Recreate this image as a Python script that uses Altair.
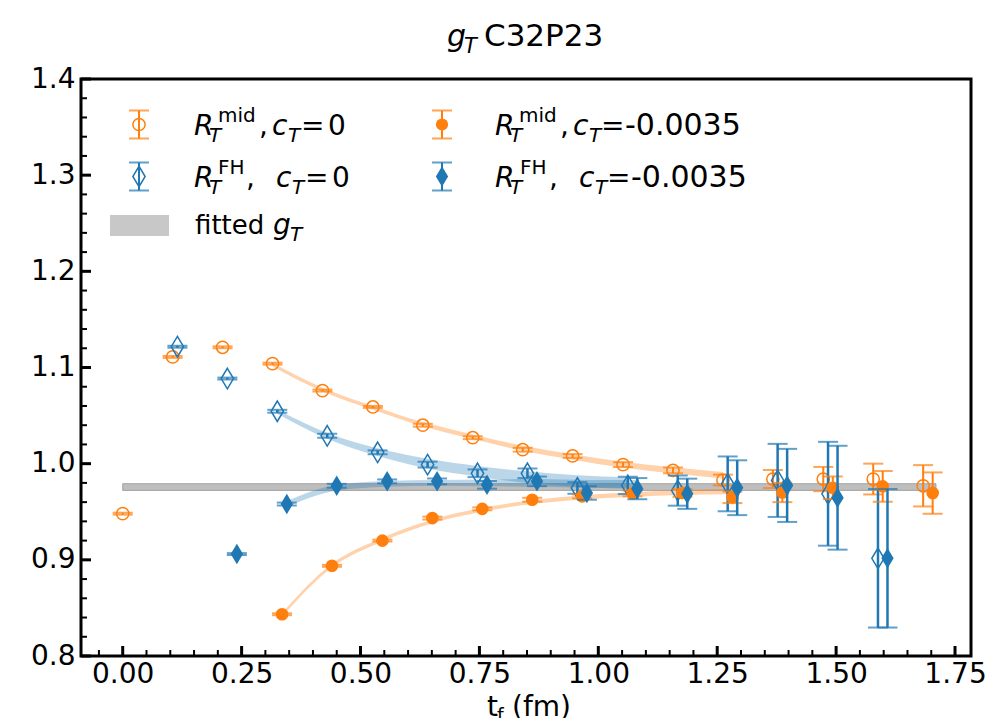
import altair as alt
import pandas as pd

# ---------------- data ----------------
ORANGE = "#ff7f0e"
BLUE = "#1f77b4"

# R_T^mid, c_T = 0  (open circles)
mid0_x = [0.000, 0.105, 0.210, 0.315, 0.420, 0.526, 0.631, 0.736, 0.841, 0.946,
          1.052, 1.157, 1.262, 1.367, 1.473, 1.578, 1.683]
mid0_y = [0.948, 1.111, 1.121, 1.104, 1.076, 1.059, 1.040, 1.027, 1.0145, 1.008,
          0.999, 0.993, 0.983, 0.984, 0.984, 0.984, 0.977]
mid0_e = [0.001, 0.001, 0.001, 0.001, 0.001, 0.001, 0.0015, 0.0015, 0.002, 0.002,
          0.0025, 0.003, 0.0056, 0.0094, 0.0126, 0.016, 0.0215]

# R_T^FH, c_T = 0  (open thin diamonds)
fh0_x = [0.115, 0.220, 0.325, 0.430, 0.536, 0.641, 0.746, 0.851, 0.956, 1.062,
         1.167, 1.272, 1.377, 1.483, 1.588]
fh0_y = [1.1216, 1.0885, 1.0545, 1.029, 1.0118, 0.999, 0.990, 0.990, 0.9747, 0.9774,
         0.972, 0.979, 0.9826, 0.9687, 0.9016]
fh0_e = [0.001, 0.001, 0.0015, 0.002, 0.002, 0.003, 0.004, 0.005, 0.006, 0.009,
         0.0157, 0.0285, 0.038, 0.054, 0.072]

# R_T^mid, c_T = -0.0035  (filled circles)
midc_x = [0.335, 0.440, 0.546, 0.651, 0.756, 0.861, 0.966, 1.072, 1.177, 1.282,
          1.387, 1.493, 1.598, 1.703]
midc_y = [0.8434, 0.8938, 0.920, 0.9434, 0.953, 0.9625, 0.966, 0.969, 0.9695, 0.965,
          0.970, 0.975, 0.9764, 0.9694]
midc_e = [0.001, 0.001, 0.001, 0.0015, 0.0015, 0.002, 0.002, 0.003, 0.004, 0.006,
          0.010, 0.0117, 0.016, 0.0215]

# R_T^FH, c_T = -0.0035  (filled thin diamonds)
fhc_x = [0.240, 0.345, 0.450, 0.556, 0.661, 0.766, 0.871, 0.976, 1.082, 1.187,
         1.292, 1.397, 1.503, 1.608]
fhc_y = [0.906, 0.958, 0.977, 0.9816, 0.9816, 0.978, 0.9816, 0.9695, 0.974, 0.9687,
         0.975, 0.9774, 0.9646, 0.9016]
fhc_e = [0.001, 0.0015, 0.002, 0.002, 0.003, 0.004, 0.005, 0.007, 0.011, 0.0157,
         0.0285, 0.038, 0.054, 0.072]

# fit bands (centre and half width)
fitA_x = [0.315, 0.420, 0.526, 0.631, 0.736, 0.841, 0.946, 1.052, 1.157, 1.262]
fitA_y = [1.103, 1.077, 1.058, 1.041, 1.028, 1.016, 1.007, 0.999, 0.993, 0.988]
fitA_w = [0.002, 0.002, 0.002, 0.0022, 0.0024, 0.0026, 0.0028, 0.003, 0.0032, 0.0034]

fitB_x = [0.325, 0.430, 0.536, 0.641, 0.746, 0.851, 0.956, 1.062]
fitB_y = [1.054, 1.029, 1.012, 1.000, 0.992, 0.986, 0.982, 0.980]
fitB_w = [0.002, 0.003, 0.004, 0.005, 0.0055, 0.006, 0.006, 0.006]

fitC_x = [0.335, 0.440, 0.546, 0.651, 0.756, 0.861, 0.966, 1.072, 1.177, 1.282]
fitC_y = [0.843, 0.894, 0.921, 0.940, 0.952, 0.960, 0.965, 0.968, 0.970, 0.971]
fitC_w = [0.002, 0.002, 0.002, 0.002, 0.002, 0.002, 0.0022, 0.0024, 0.0026, 0.0028]

fitD_x = [0.345, 0.450, 0.556, 0.661, 0.766, 0.871, 0.976, 1.082]
fitD_y = [0.958, 0.975, 0.979, 0.980, 0.980, 0.980, 0.979, 0.979]
fitD_w = [0.003, 0.003, 0.003, 0.003, 0.0035, 0.004, 0.004, 0.004]

# fitted g_T band
gT_x = [0.0, 1.71]
gT_lo = [0.9722, 0.9722]
gT_hi = [0.9792, 0.9792]

# axes
x_major = [0.0, 0.25, 0.5, 0.75, 1.0, 1.25, 1.5, 1.75]
x_minor = [-0.05, 0.05, 0.10, 0.15, 0.20, 0.30, 0.35, 0.40, 0.45, 0.55, 0.60, 0.65,
           0.70, 0.80, 0.85, 0.90, 0.95, 1.05, 1.10, 1.15, 1.20, 1.30, 1.35, 1.40,
           1.45, 1.55, 1.60, 1.65, 1.70]
y_major = [0.8, 0.9, 1.0, 1.1, 1.2, 1.3, 1.4]
y_minor = [0.82, 0.84, 0.86, 0.88, 0.92, 0.94, 0.96, 0.98, 1.02, 1.04, 1.06, 1.08,
           1.12, 1.14, 1.16, 1.18, 1.22, 1.24, 1.26, 1.28, 1.32, 1.34, 1.36, 1.38]

XD = [-0.0877, 1.7836]
YD = [0.8, 1.4]
W, H = 890, 577
FONT = "DejaVu Sans"
DIAMOND = "M0,-1L0.6,0L0,1L-0.6,0Z"

# text pieces: (text, x px, baseline px, size, italic)
legend_text = [
    ("R", 113, 56, 28, 1), ("T", 128, 63, 20, 1), ("mid", 137, 43, 20, 0), (",", 178, 56, 28, 0),
    ("c", 191, 56, 28, 1), ("T", 207, 63, 20, 1), ("=", 220, 56, 28, 0), ("0", 247, 56, 28, 0),
    ("R", 113, 108, 28, 1), ("T", 128, 115, 20, 1), ("FH", 137, 95, 20, 0), (",", 165, 108, 28, 0),
    ("c", 195, 108, 28, 1), ("T", 211, 115, 20, 1), ("=", 224, 108, 28, 0), ("0", 251, 108, 28, 0),
    ("R", 414, 56, 28, 1), ("T", 429, 63, 20, 1), ("mid", 438, 43, 20, 0), (",", 479, 56, 28, 0),
    ("c", 492, 56, 28, 1), ("T", 508, 63, 20, 1), ("=", 520, 56, 28, 0), ("-0.0035", 544, 56, 30, 0),
    ("R", 414, 108, 28, 1), ("T", 429, 115, 20, 1), ("FH", 439, 95, 20, 0), (",", 468, 108, 28, 0),
    ("c", 498, 108, 28, 1), ("T", 514, 115, 20, 1), ("=", 526, 108, 28, 0), ("-0.0035", 550, 108, 30, 0),
    ("fitted", 114, 155, 26, 0), ("g", 192, 155, 28, 1), ("T", 209, 162, 20, 1),
    # title
    ("g", 366, -33, 30, 1), ("T", 383, -26, 21, 1), ("C32P23", 403, -33, 31, 0),
    # x axis title
    ("t", 406, 637, 28, 0), ("f", 416, 643, 19, 0), ("(fm)", 431, 637, 28, 0),
]

# legend icons: (px, py, color, filled, shape)
legend_icons = [
    (58, 45.5, ORANGE, False, "circle"),
    (361, 45.5, ORANGE, True, "circle"),
    (58, 97.5, BLUE, False, DIAMOND),
    (361, 97.5, BLUE, True, DIAMOND),
]
legend_patch = {"x": [29], "x2": [88], "y": [136], "y2": [157]}

# ---------------- helpers ----------------
def X(field="x", axis=None):
    return alt.X(f"{field}:Q", scale=alt.Scale(domain=XD, nice=False, zero=False), axis=axis)


def Y(field="y", axis=None):
    return alt.Y(f"{field}:Q", scale=alt.Scale(domain=YD, nice=False, zero=False), axis=axis)


def series_layers(xs, ys, es, color, filled, shape, size, bar_w):
    df = pd.DataFrame({"x": xs, "y": ys,
                       "lo": [a - b for a, b in zip(ys, es)],
                       "hi": [a + b for a, b in zip(ys, es)]})
    base = alt.Chart(df)
    bar = base.mark_rule(color=color, strokeWidth=bar_w).encode(x=X(), y=Y("lo"), y2="hi:Q")
    cap1 = base.mark_tick(orient="horizontal", size=20, thickness=2, color=color).encode(x=X(), y=Y("lo"))
    cap2 = base.mark_tick(orient="horizontal", size=20, thickness=2, color=color).encode(x=X(), y=Y("hi"))
    if filled:
        pt = base.mark_point(shape=shape, filled=True, size=size, color=color, opacity=1).encode(x=X(), y=Y())
    else:
        pt = base.mark_point(shape=shape, filled=False, size=size, color=color, strokeWidth=1.5,
                             opacity=1).encode(x=X(), y=Y())
    return [bar, cap1, cap2, pt]


def band(xs, ys, ws, color, op):
    df = pd.DataFrame({"x": xs, "lo": [a - b for a, b in zip(ys, ws)], "hi": [a + b for a, b in zip(ys, ws)]})
    return alt.Chart(df).mark_area(color=color, opacity=op, interpolate="monotone").encode(
        x=X(), y=Y("lo"), y2="hi:Q")


# ---------------- layers ----------------
xaxis = alt.Axis(values=x_major, format=".2f", ticks=False, domain=False, grid=False,
                 labelPadding=4, labelFlush=False, labelOverlap=False, title=None)
yaxis = alt.Axis(values=y_major, format=".1f", ticks=False, domain=False, grid=False,
                 labelPadding=6, labelFlush=False, labelOverlap=False, title=None)

gdf = pd.DataFrame({"x": gT_x, "lo": gT_lo, "hi": gT_hi})
gband = alt.Chart(gdf).mark_area(fill="#a8a8a8", fillOpacity=0.75, stroke="#8c8c8c",
                                 strokeWidth=1, strokeOpacity=0.7).encode(
    x=X(axis=xaxis), y=Y("lo", axis=yaxis), y2="hi:Q")

layers = [gband,
          band(fitA_x, fitA_y, fitA_w, ORANGE, 0.35),
          band(fitB_x, fitB_y, fitB_w, BLUE, 0.3),
          band(fitC_x, fitC_y, fitC_w, ORANGE, 0.35),
          band(fitD_x, fitD_y, fitD_w, BLUE, 0.3)]

layers += series_layers(mid0_x, mid0_y, mid0_e, ORANGE, False, "circle", 150, 2)
layers += series_layers(fh0_x, fh0_y, fh0_e, BLUE, False, DIAMOND, 420, 2.5)
layers += series_layers(midc_x, midc_y, midc_e, ORANGE, True, "circle", 160, 2)
layers += series_layers(fhc_x, fhc_y, fhc_e, BLUE, True, DIAMOND, 420, 2.5)

# inward ticks
xmaj = alt.Chart(pd.DataFrame({"x": x_major})).mark_rule(color="black", strokeWidth=3).encode(
    x=X(), y=alt.value(H), y2=alt.value(H - 10))
xmin = alt.Chart(pd.DataFrame({"x": x_minor})).mark_rule(color="black", strokeWidth=2).encode(
    x=X(), y=alt.value(H), y2=alt.value(H - 6))
ymaj = alt.Chart(pd.DataFrame({"y": y_major})).mark_rule(color="black", strokeWidth=3).encode(
    y=Y(), x=alt.value(0), x2=alt.value(10))
ymin = alt.Chart(pd.DataFrame({"y": y_minor})).mark_rule(color="black", strokeWidth=2).encode(
    y=Y(), x=alt.value(0), x2=alt.value(6))
layers += [xmaj, xmin, ymaj, ymin]

# legend icons
ic = pd.DataFrame(legend_icons, columns=["px", "py", "color", "filled", "shape"])
ic["lo"] = ic["py"] + 14
ic["hi"] = ic["py"] - 14
PX = alt.X("px:Q", scale=None, axis=None)
for _, r in ic.iterrows():
    d = pd.DataFrame([r])
    b = alt.Chart(d)
    layers.append(b.mark_rule(color=r["color"], strokeWidth=2).encode(
        x=PX, y=alt.Y("lo:Q", scale=None, axis=None), y2="hi:Q"))
    layers.append(b.mark_tick(orient="horizontal", size=20, thickness=2, color=r["color"]).encode(
        x=PX, y=alt.Y("lo:Q", scale=None, axis=None)))
    layers.append(b.mark_tick(orient="horizontal", size=20, thickness=2, color=r["color"]).encode(
        x=PX, y=alt.Y("hi:Q", scale=None, axis=None)))
    size = 150 if r["shape"] == "circle" else 420
    if r["filled"]:
        layers.append(b.mark_point(shape=r["shape"], filled=True, size=size, color=r["color"], opacity=1).encode(
            x=PX, y=alt.Y("py:Q", scale=None, axis=None)))
    else:
        layers.append(b.mark_point(shape=r["shape"], filled=False, size=size, color=r["color"],
                                   strokeWidth=1.5, opacity=1).encode(
            x=PX, y=alt.Y("py:Q", scale=None, axis=None)))

patch = alt.Chart(pd.DataFrame(legend_patch)).mark_rect(color="#c8c8c8").encode(
    x=alt.X("x:Q", scale=None, axis=None), x2="x2:Q",
    y=alt.Y("y:Q", scale=None, axis=None), y2="y2:Q")
layers.append(patch)

# text
tdf = pd.DataFrame(legend_text, columns=["t", "px", "py", "size", "italic"])
for it, style in [(0, "normal"), (1, "italic")]:
    sub = tdf[tdf["italic"] == it]
    layers.append(alt.Chart(sub).mark_text(align="left", baseline="alphabetic", font=FONT,
                                           fontStyle=style, color="black").encode(
        x=alt.X("px:Q", scale=None, axis=None),
        y=alt.Y("py:Q", scale=None, axis=None),
        text="t:N",
        size=alt.Size("size:Q", scale=None, legend=None)))

chart = alt.layer(*layers).resolve_scale(x="independent", y="independent").properties(
    width=W, height=H, autosize="none",
    padding={"left": 81, "top": 79, "right": 18, "bottom": 62},
    background="white",
).configure_view(stroke="black", strokeWidth=3).configure_axis(
    labelFont=FONT, labelFontSize=28, labelColor="black")

chart.save("out.html", embed_options={"renderer": "svg", "actions": False})
